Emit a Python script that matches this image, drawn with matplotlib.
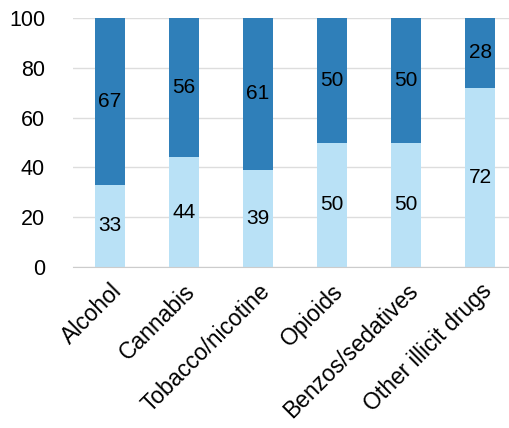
import matplotlib
matplotlib.use("Agg")
import matplotlib.pyplot as plt

plt.rcParams['font.family'] = ['Liberation Sans', 'DejaVu Sans']

categories = ["Alcohol", "Cannabis", "Tobacco/nicotine", "Opioids",
              "Benzos/sedatives", "Other illicit drugs"]
lower = [33, 44, 39, 50, 50, 72]
upper = [67, 56, 61, 50, 50, 28]

light = '#b9e1f6'
dark = '#2f7fb9'

fig = plt.figure(figsize=(5.09, 4.28), dpi=100)
ax = fig.add_axes([0.143, 0.376, 0.857, 0.582])

x = range(len(categories))
ax.bar(x, lower, width=0.4, color=light, zorder=2)
ax.bar(x, upper, width=0.4, bottom=lower, color=dark, zorder=2)

for i in x:
    ax.text(i, lower[i] / 2, str(lower[i]), ha='center', va='center', fontsize=15, zorder=3)
    ax.text(i, lower[i] + upper[i] / 2, str(upper[i]), ha='center', va='center', fontsize=15, zorder=3)

ax.set_ylim(0, 100)
ax.set_xlim(-0.5, 5.39)
ax.set_yticks([0, 20, 40, 60, 80, 100])
ax.yaxis.grid(True, color='#dddddd', linewidth=1, zorder=0)
ax.set_axisbelow(True)
for s in ['top', 'right', 'left']:
    ax.spines[s].set_visible(False)
ax.spines['bottom'].set_color('#cccccc')
ax.tick_params(axis='both', length=0)
ax.tick_params(axis='y', pad=20, labelsize=15.5)
ax.tick_params(axis='x', pad=9, labelsize=16.5)
ax.set_xticks(list(x))
ax.set_xticklabels(categories, rotation=45, ha='right', rotation_mode='anchor')

fig.savefig("out.png", dpi=100)
